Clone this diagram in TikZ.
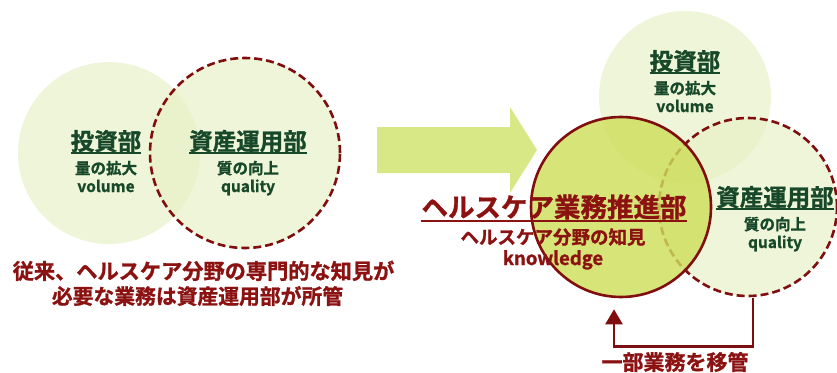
\documentclass[tikz,border=0pt]{standalone}
\usepackage{fontspec}
\setmainfont{Noto Sans CJK JP}[BoldFont={Noto Sans CJK JP Bold},BoldFeatures={FakeBold=1.2}]
\usetikzlibrary{arrows.meta}
\definecolor{lightc}{RGB}{230,240,195}
\definecolor{hcfill}{RGB}{205,222,90}
\definecolor{arrowc}{RGB}{217,232,134}
\definecolor{txtgreen}{RGB}{24,72,42}
\definecolor{txtred}{RGB}{140,18,18}
\definecolor{edgered}{RGB}{128,14,14}
\tikzset{
  lightcircle/.style={circle, fill=lightc, fill opacity=0.65, draw=none, inner sep=0pt},
  dashcircle/.style={circle, fill=lightc, fill opacity=0.65, draw=edgered, draw opacity=1, line width=2.6pt, dash pattern=on 8pt off 4pt, inner sep=0pt},
  hccircle/.style={circle, fill=hcfill, fill opacity=0.82, draw=edgered, draw opacity=1, line width=2.6pt, inner sep=0pt},
  gtitle/.style={anchor=base, inner sep=0pt, text=txtgreen, font=\bfseries\fontsize{23.5}{26}\selectfont},
  gsub/.style={anchor=base, inner sep=0pt, text=txtgreen, font=\bfseries\fontsize{15.5}{18}\selectfont},
  rtxt/.style={anchor=base, inner sep=0pt, text=txtred, font=\bfseries\fontsize{18.5}{22}\selectfont},
  gline/.style={draw=txtgreen, line width=1.3pt},
  rline/.style={draw=txtred, line width=1.3pt},
  movearrow/.style={draw=edgered, line width=2.6pt, -{Triangle[width=17pt,length=15pt]}}
}
\begin{document}
\begin{tikzpicture}[x=1pt,y=-1pt]
\useasboundingbox (0,0) rectangle (837,372);
% ---------- left ----------
\node[lightcircle, minimum size=182pt] (inv1) at (109,153) {};
\node[dashcircle, minimum size=190pt] (ast1) at (245,153) {};
\node[gtitle] (inv1t) at (106,150) {投資部};
\draw[gline] ([yshift=-3pt]inv1t.base west) -- ([yshift=-3pt]inv1t.base east);
\node[gsub] (inv1s) at (106,174) {量の拡大};
\node[gsub] (inv1e) at (106,192) {volume};
\node[gtitle] (ast1t) at (248,150) {資産運用部};
\draw[gline] ([yshift=-3pt]ast1t.base west) -- ([yshift=-3pt]ast1t.base east);
\node[gsub] (ast1s) at (248,174) {質の向上};
\node[gsub] (ast1e) at (248,192) {quality};
\node[rtxt, font=\bfseries\fontsize{21.2}{24}\selectfont] (note1) at (203.5,279) {従来、ヘルスケア分野の専門的な知見が};
\node[rtxt, font=\bfseries\fontsize{20.8}{24}\selectfont] (note2) at (197.5,304) {必要な業務は資産運用部が所管};
% ---------- big arrow ----------
\fill[arrowc] (377,127) -- (510,127) -- (510,107) -- (537,150) -- (510,193) -- (510,173) -- (377,173) -- cycle;
% ---------- right ----------
\node[lightcircle, minimum size=172pt] (inv2) at (685,97) {};
\node[dashcircle, minimum size=178pt] (ast2) at (748,207) {};
\node[hccircle, minimum size=180pt] (hc) at (621,207) {};
\node[gtitle] (inv2t) at (685,70) {投資部};
\draw[gline] ([yshift=-3pt]inv2t.base west) -- ([yshift=-3pt]inv2t.base east);
\node[gsub] (inv2s) at (685,94) {量の拡大};
\node[gsub] (inv2e) at (685,112) {volume};
\node[gtitle] (ast2t) at (775,206) {資産運用部};
\draw[gline] ([yshift=-3pt]ast2t.base west) -- ([yshift=-3pt]ast2t.base east);
\node[gsub] (ast2s) at (775,230) {質の向上};
\node[gsub] (ast2e) at (775,248) {quality};
\node[rtxt, font=\bfseries\fontsize{26.5}{30}\selectfont] (hct) at (554,217) {ヘルスケア業務推進部};
\draw[rline] ([yshift=-4pt]hct.base west) -- ([yshift=-4pt]hct.base east);
\node[rtxt] (hcs) at (553,244) {ヘルスケア分野の知見};
\node[rtxt] (hce) at (553,265) {knowledge};
\draw[movearrow] ([xshift=5pt,yshift=-1pt]ast2.south) -- ++(0,48) -| ([xshift=-7pt,yshift=-11pt]hc.south);
\node[rtxt, font=\bfseries\fontsize{21}{24}\selectfont] (movet) at (675,370) {一部業務を移管};
\end{tikzpicture}
\end{document}
